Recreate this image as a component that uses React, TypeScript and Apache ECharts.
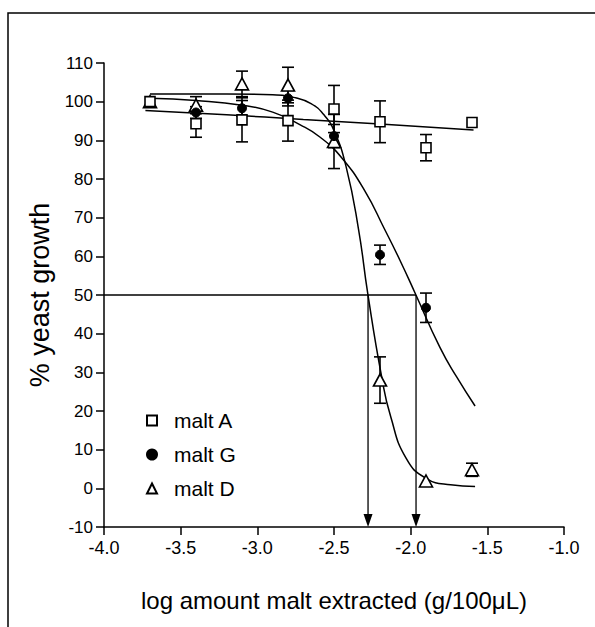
import React, { useEffect, useRef } from "react";
import * as echarts from "echarts";

// Doses (log amount malt extracted, g/100µL)
const doses = [-3.7, -3.4, -3.1, -2.8, -2.5, -2.2, -1.9, -1.6];

// % yeast growth, means and error (±)
const maltA = [100, 94.3, 95.3, 95.1, 98.1, 94.8, 88.1, 94.6];
const maltAErr = [0, 3.5, 5.7, 5.3, 6.1, 5.4, 3.4, 0];
const maltG = [100, 97.2, 98.3, 100.9, 91.1, 60.4, 46.7, null];
const maltGErr = [0, 1.5, 2.0, 2.0, 3.0, 2.5, 3.8, 0];
const maltD = [100, 99.1, 104.6, 104.3, 89.7, 28.0, 1.9, 4.8];
const maltDErr = [0, 2.2, 3.3, 4.6, 7.0, 6.0, 0, 1.7];

// Fitted curves
const fitA = [[-3.73, 97.7], [-3.2, 96.6], [-2.7, 95.4], [-2.2, 94.2], [-1.59, 92.7]];
const fitG = [
  [-3.7, 100.9], [-3.4, 100.3], [-3.1, 99.1], [-2.9, 97.3], [-2.72, 94.0],
  [-2.59, 90.8], [-2.45, 85.5], [-2.3, 77], [-2.17, 67], [-2.07, 59],
  [-1.97, 50.4], [-1.81, 36.5], [-1.7, 28.8], [-1.58, 21.3],
];
const fitD = [
  [-3.7, 102], [-3.2, 102], [-2.9, 101.8], [-2.75, 101], [-2.65, 99.5],
  [-2.57, 96.8], [-2.5, 92.5], [-2.42, 83], [-2.34, 67], [-2.28, 50.4],
  [-2.19, 29], [-2.13, 18.5], [-2.03, 7.8], [-1.9, 2.6], [-1.74, 0.9], [-1.58, 0.5],
];

// IC50 read-offs
const halfLevel = 50;
const ic50 = [-2.278, -1.965];

const seriesNames = ["malt A", "malt G", "malt D"];
const xTicks = { min: -4, max: -1, interval: 0.5 };
const yTicks = { min: -10, max: 110, interval: 10 };

const FONT = "Liberation Sans, Arial, sans-serif";

export default function App() {
  const ref = useRef<HTMLDivElement>(null);

  useEffect(() => {
    if (!ref.current) return;
    const chart = echarts.init(ref.current, undefined, { renderer: "svg" });

    const pts = (ys: (number | null)[]) =>
      doses.map((x, i) => [x, ys[i]]).filter((p) => p[1] !== null);
    const errPts = (ys: (number | null)[], es: number[]) =>
      doses
        .map((x, i) => [x, ys[i], es[i]])
        .filter((p) => p[1] !== null && (p[2] as number) > 0);

    const black = "#000";
    const errorRender = (params: any, api: any) => {
      const x = api.value(0);
      const y = api.value(1);
      const e = api.value(2);
      const top = api.coord([x, y + e]);
      const bot = api.coord([x, y - e]);
      const cap = 6;
      const st = { stroke: black, lineWidth: 1.6 };
      return {
        type: "group",
        children: [
          { type: "line", shape: { x1: top[0], y1: top[1], x2: bot[0], y2: bot[1] }, style: st },
          { type: "line", shape: { x1: top[0] - cap, y1: top[1], x2: top[0] + cap, y2: top[1] }, style: st },
          { type: "line", shape: { x1: bot[0] - cap, y1: bot[1], x2: bot[0] + cap, y2: bot[1] }, style: st },
        ],
      };
    };

    const errorSeries = (ys: (number | null)[], es: number[]) => ({
      type: "custom",
      silent: true,
      z: 3,
      encode: { x: 0, y: 1 },
      renderItem: errorRender,
      data: errPts(ys, es),
    });

    const curve = (data: number[][]) => ({
      type: "line",
      data,
      smooth: 0.5,
      symbol: "none",
      silent: true,
      z: 2,
      lineStyle: { color: black, width: 1.5 },
    });

    chart.setOption({
      animation: false,
      backgroundColor: "#fff",
      grid: { left: 104, top: 63, width: 460, height: 464, containLabel: false },
      graphic: [
        {
          type: "polyline",
          shape: { points: [[8, 640], [8, 13], [600, 13]] },
          style: { stroke: black, lineWidth: 1.5, fill: null },
          silent: true,
        },
      ],
      legend: {
        data: seriesNames,
        orient: "vertical",
        left: 141,
        top: 405,
        itemWidth: 10,
        itemHeight: 10,
        itemGap: 13,
        textStyle: {
          fontFamily: FONT,
          fontSize: 21,
          color: black,
          lineHeight: 21,
          padding: [0, 0, 0, 12],
        },
        selectedMode: false,
      },
      xAxis: {
        type: "value",
        ...xTicks,
        name: "log amount malt extracted (g/100\u03bcL)",
        nameLocation: "middle",
        nameGap: 61,
        nameTextStyle: { fontFamily: FONT, fontSize: 24, color: black },
        axisLine: { lineStyle: { color: black, width: 1.5 }, onZero: false },
        axisTick: { length: 8, lineStyle: { color: black, width: 1.5 } },
        axisLabel: {
          fontFamily: FONT,
          fontSize: 18,
          color: black,
          margin: 12,
          formatter: (v: number) => v.toFixed(1),
        },
        splitLine: { show: false },
      },
      yAxis: {
        type: "value",
        ...yTicks,
        name: "% yeast growth",
        nameLocation: "middle",
        nameRotate: 90,
        nameGap: 51,
        nameTextStyle: { fontFamily: FONT, fontSize: 27, color: black },
        axisLine: { show: true, lineStyle: { color: black, width: 1.5 }, onZero: false },
        axisTick: { show: true, length: 8, lineStyle: { color: black, width: 1.5 } },
        axisLabel: { fontFamily: FONT, fontSize: 17, color: black, margin: 11 },
        splitLine: { show: false },
      },
      series: [
        curve(fitA),
        curve(fitG),
        curve(fitD),
        {
          type: "line",
          data: [[xTicks.min, halfLevel], [Math.max(...ic50), halfLevel]],
          symbol: "none",
          silent: true,
          z: 2,
          lineStyle: { color: black, width: 1.3 },
        },
        {
          type: "custom",
          silent: true,
          z: 2,
          encode: { x: 0, y: 1 },
          data: ic50.map((x) => [x, halfLevel]),
          renderItem: (params: any, api: any) => {
            const x = api.value(0);
            const p = api.coord([x, api.value(1)]);
            const b = api.coord([x, yTicks.min]);
            return {
              type: "group",
              children: [
                {
                  type: "line",
                  shape: { x1: p[0], y1: p[1], x2: b[0], y2: b[1] - 8 },
                  style: { stroke: black, lineWidth: 1.3 },
                },
                {
                  type: "polygon",
                  shape: { points: [[b[0] - 4.5, b[1] - 13], [b[0] + 4.5, b[1] - 13], [b[0], b[1]]] },
                  style: { fill: black },
                },
              ],
            };
          },
        },
        errorSeries(maltD, maltDErr),
        errorSeries(maltG, maltGErr),
        errorSeries(maltA, maltAErr),
        {
          name: "malt D",
          type: "scatter",
          data: pts(maltD),
          symbol: "triangle",
          symbolSize: [13, 12],
          z: 4,
          itemStyle: { color: "#fff", borderColor: black, borderWidth: 1.6, opacity: 1 },
        },
        {
          name: "malt G",
          type: "scatter",
          data: pts(maltG),
          symbol: "circle",
          symbolSize: 9,
          z: 5,
          itemStyle: { color: black, borderColor: black, borderWidth: 1, opacity: 1 },
        },
        {
          name: "malt A",
          type: "scatter",
          data: pts(maltA),
          symbol: "rect",
          symbolSize: 10,
          z: 6,
          itemStyle: { color: "#fff", borderColor: black, borderWidth: 1.6, opacity: 1 },
        },
      ],
    });

    return () => chart.dispose();
  }, []);

  return (
    <div
      ref={ref}
      style={{ position: "absolute", left: 0, top: 0, width: 595, height: 627 }}
    />
  );
}
